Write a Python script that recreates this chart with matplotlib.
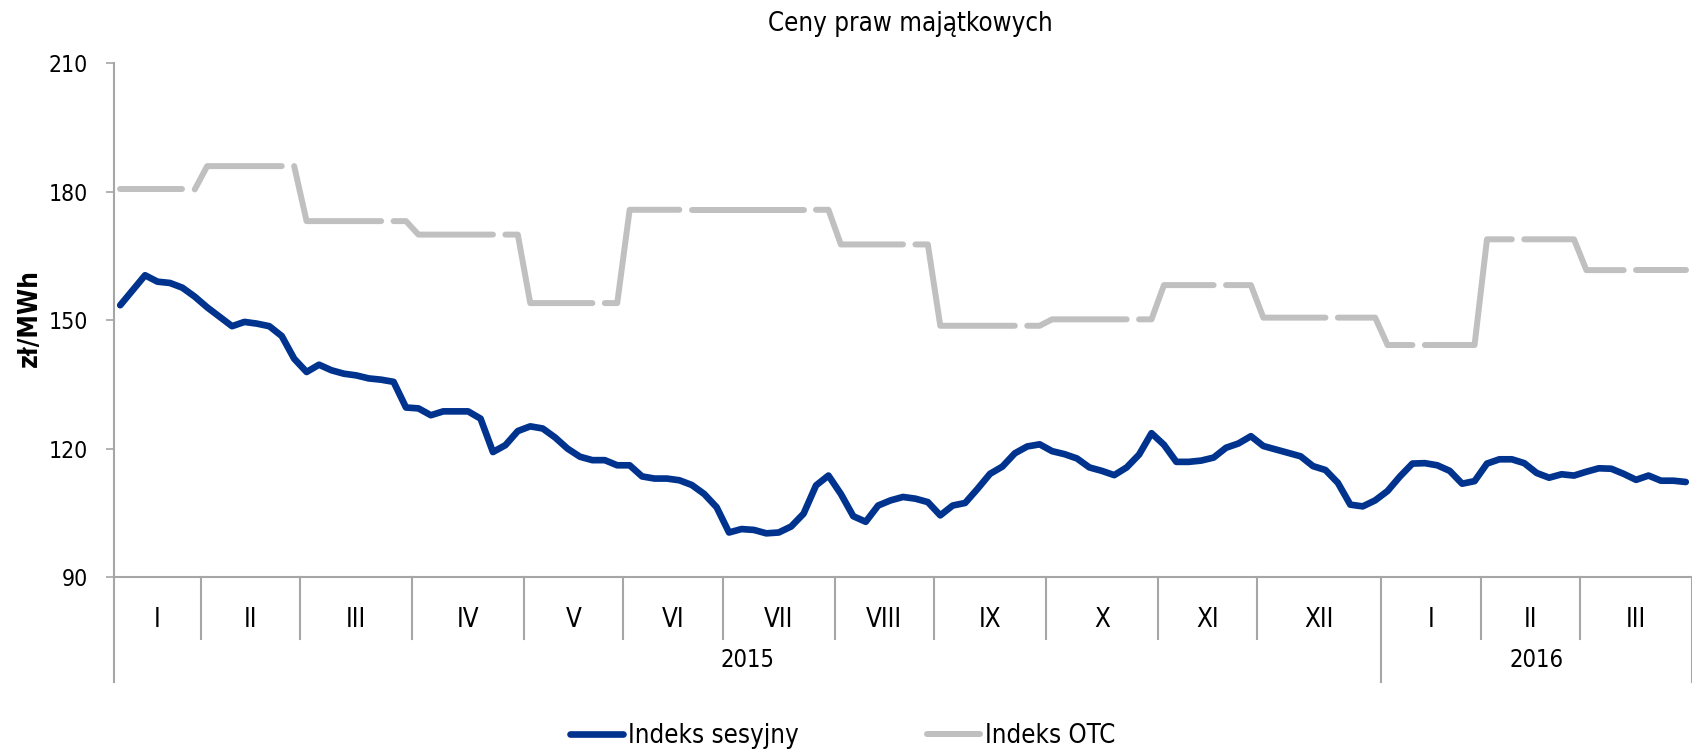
import numpy as np
import matplotlib
matplotlib.use("Agg")
import matplotlib.pyplot as plt
from matplotlib import font_manager as fm
import matplotlib.transforms as mtransforms

# ---------------- data ----------------
title = "Ceny praw majątkowych"
ylabel = "zł/MWh"
series_names = ["Indeks sesyjny", "Indeks OTC"]

month_labels = ["I", "II", "III", "IV", "V", "VI", "VII", "VIII", "IX", "X", "XI", "XII", "I", "II", "III"]
month_points = [7, 8, 9, 9, 8, 8, 9, 8, 9, 9, 8, 10, 8, 8, 9]
year_labels = ["2015", "2016"]
year_months = [12, 3]

sesyjny = [
    153.5, 157.0, 160.5, 159.0, 158.7, 157.6, 155.5, 153.0, 150.8, 148.6,
    149.6, 149.2, 148.6, 146.3, 141.0, 137.9, 139.6, 138.3, 137.5, 137.1,
    136.4, 136.1, 135.6, 129.6, 129.4, 127.8, 128.7, 128.7, 128.7, 127.0,
    119.2, 120.8, 124.1, 125.2, 124.7, 122.6, 120.0, 118.1, 117.3, 117.3,
    116.1, 116.1, 113.5, 113.0, 113.0, 112.6, 111.5, 109.4, 106.3, 100.4,
    101.2, 101.0, 100.2, 100.4, 101.8, 104.8, 111.4, 113.7, 109.4, 104.2,
    102.9, 106.7, 107.9, 108.7, 108.3, 107.5, 104.4, 106.7, 107.3, 110.6,
    114.1, 115.8, 118.9, 120.5, 121.0, 119.4, 118.7, 117.7, 115.6, 114.8,
    113.8, 115.6, 118.6, 123.6, 120.9, 116.9, 116.9, 117.2, 117.9, 120.2,
    121.2, 122.9, 120.6, 119.8, 119.0, 118.2, 115.9, 115.0, 112.0, 106.9,
    106.5, 107.9, 110.1, 113.5, 116.5, 116.6, 116.1, 114.8, 111.8, 112.4,
    116.5, 117.5, 117.5, 116.6, 114.3, 113.2, 114.0, 113.7, 114.6, 115.4,
    115.3, 114.1, 112.7, 113.7, 112.5, 112.5, 112.2,
]

# OTC index: one value per month (shown across the month's points)
otc_monthly = [180.56, 186.0, 173.15, 170.0, 154.0, 175.8, 175.8, 167.7, 148.7,
               150.2, 158.2, 150.6, 144.2, 168.9, 161.7]
# breaks in the OTC line: break between point k-1 and k
otc_breaks = [6, 14, 22, 31, 39, 46, 56, 64, 73, 82, 89, 98, 105, 113, 122]

# ---------------- style ----------------
avail = {f.name for f in fm.fontManager.ttflist}
FONT = "Liberation Sans Narrow" if "Liberation Sans Narrow" in avail else "DejaVu Sans"
plt.rcParams["font.family"] = [FONT, "DejaVu Sans"]
if FONT == "DejaVu Sans":
    plt.rcParams["font.stretch"] = "condensed"

BLUE = "#00338D"
GRAY = "#C0C0C0"
AXC = "#A6A6A6"

W, H = 1692, 750
fig = plt.figure(figsize=(W / 100, H / 100), dpi=100)
ax_left, ax_right = 114, 1692
ax_top, ax_bot = 63.4, 577
ax = fig.add_axes([ax_left / W, 1 - ax_bot / H, (ax_right - ax_left) / W, (ax_bot - ax_top) / H])

n = len(sesyjny)
x = np.arange(n) + 0.5

otc = np.empty(n)
bounds = np.concatenate([[0], np.cumsum(month_points)])
for m, v in enumerate(otc_monthly):
    otc[bounds[m]:bounds[m + 1]] = v

edges = [0] + otc_breaks + [n]
gray_handle = None
for a, b in zip(edges[:-1], edges[1:]):
    if b - a >= 1:
        ln, = ax.plot(x[a:b], otc[a:b], color=GRAY, lw=4.3, solid_capstyle="round",
                      solid_joinstyle="round", zorder=2)
        gray_handle = ln

blue_handle, = ax.plot(x, sesyjny, color=BLUE, lw=4.8, solid_capstyle="round",
                       solid_joinstyle="round", zorder=3)

ax.set_xlim(0, n)
ax.set_ylim(90, 210)
ax.set_yticks([90, 120, 150, 180, 210])
ax.tick_params(axis="y", length=6, width=1.2, color=AXC, pad=13, labelsize=16.5)
ax.set_xticks([])
for s in ["top", "right"]:
    ax.spines[s].set_visible(False)
for s in ["left", "bottom"]:
    ax.spines[s].set_color(AXC)
    ax.spines[s].set_linewidth(1.5)

# multi-level category axis
trans = mtransforms.blended_transform_factory(ax.transData, ax.transAxes)
ph = ax_bot - ax_top
sep_m = -(639 - ax_bot) / ph
sep_y = -(682 - ax_bot) / ph
lab_m = -(620 - ax_bot) / ph
lab_y = -(660 - ax_bot) / ph

year_bounds = [0]
for ym in year_months:
    year_bounds.append(year_bounds[-1] + ym)
year_point_bounds = [bounds[b] for b in year_bounds]

for b in bounds:
    yend = sep_y if b in year_point_bounds else sep_m
    ax.plot([b, b], [0, yend], transform=trans, color=AXC, lw=1.5, clip_on=False)
for m, lab in enumerate(month_labels):
    c = (bounds[m] + bounds[m + 1]) / 2
    ax.text(c, lab_m, lab, transform=trans, ha="center", va="center", fontsize=18.5)
for yi, lab in enumerate(year_labels):
    c = (year_point_bounds[yi] + year_point_bounds[yi + 1]) / 2
    ax.text(c, lab_y, lab, transform=trans, ha="center", va="center", fontsize=17)

fig.text(910 / W, 1 - 24 / H, title, ha="center", va="center", fontsize=18.5)
fig.text(30 / W, 1 - 318 / H, ylabel, ha="center", va="center", rotation=90, fontsize=19,
         fontweight="bold")

fig.legend([blue_handle, gray_handle], series_names, loc="center",
           bbox_to_anchor=(843 / W, 1 - 736 / H), ncol=2, frameon=False, fontsize=18.5,
           handlelength=2.05, handletextpad=0.2, columnspacing=5.0)

fig.savefig("out.png", dpi=100)
